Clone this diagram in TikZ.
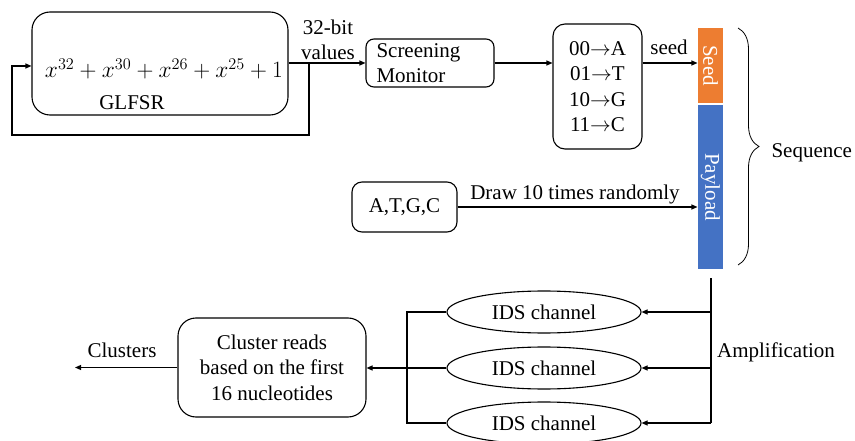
\documentclass[tikz,border=0pt]{standalone}
\usepackage{fontspec}
\setmainfont{Liberation Serif}
\usetikzlibrary{arrows.meta,decorations.pathreplacing,shapes.geometric}
\definecolor{seedor}{HTML}{ED7D31}
\definecolor{payblue}{HTML}{4472C4}
\newcommand{\toarr}{$\mathord{\rightarrow}$}
\begin{document}
\begin{tikzpicture}[x=1pt,y=-1pt,line width=1.1pt,
  txt/.style={font=\fontsize{21}{25.5}\selectfont, inner sep=0pt},
  box/.style={draw, txt, rounded corners=10pt},
  arr/.style={-{Triangle[length=6pt,width=5pt]}},
  bar/.style={inner sep=0pt, minimum width=25pt}
]
\useasboundingbox (0,0) rectangle (855,441);

% GLFSR
\node[box, rounded corners=18pt, minimum width=256pt, minimum height=103pt] (glfsr) at (160,63.5) {};
\node[txt, scale=1.13] (poly) at (164,69) {$x^{32}+x^{30}+x^{26}+x^{25}+1$};
\node[txt] (glab) at (132,103) {GLFSR};
\node[txt, align=center] (lbl) at (328,40) {32-bit\\values};

% screening monitor
\node[box, rounded corners=8pt, minimum width=128pt, minimum height=48pt, align=left, text width=107pt, inner xsep=10pt] (sm) at (430,63) {Screening\\Monitor};

% mapping
\node[box, rounded corners=12pt, minimum width=89pt, minimum height=125pt, align=center] (map) at (597.5,86.5) {00\toarr A\\01\toarr T\\10\toarr G\\11\toarr C};

% seed / payload bars
\node[bar, fill=seedor, minimum height=75pt] (seed) at (710.5,65.5) {};
\node[txt, text=white, rotate=-90] (seedt) at (seed.center) {Seed};
\node[bar, fill=payblue, minimum height=164pt] (pay) at (710.5,187) {};
\node[txt, text=white, rotate=-90] (payt) at (pay.center) {Payload};
\node[txt] (seedl) at (669,47) {seed};

% brace
\coordinate (brt) at (738,28);
\coordinate (brb) at (738,265);
\draw[line width=0.8pt, decorate, decoration={brace, amplitude=21pt}] (brt) -- (brb);
\node[txt, anchor=west] (seq) at (771,153) {Sequence};

% A,T,G,C
\node[box, minimum width=105pt, minimum height=50pt] (atgc) at (404.5,207) {A,T,G,C};
\node[txt] (drawl) at (575,194) {Draw 10 times randomly};

% connectors top
\coordinate (tap) at (309,63);
\coordinate (c1) at (309,135);
\coordinate (c2) at (12,135);
\coordinate (c3) at (12,66);
\draw[arr] (glfsr.east |- sm.west) -- (sm.west);
\draw[arr] (tap) -- (c1) -- (c2) -- (c3) -- (glfsr.west |- c3);
\draw[arr] (sm.east) -- (map.west |- sm.east);
\draw[arr] (map.east |- sm.east) -- (seed.west |- sm.east);
\draw[arr] (atgc.east) -- (pay.west |- atgc.east);

% IDS channels
\node[draw, ellipse, txt, minimum width=194pt, minimum height=42pt] (ids1) at (544,312) {IDS channel};
\node[draw, ellipse, txt, minimum width=194pt, minimum height=42pt] (ids2) at (544,368) {IDS channel};
\node[draw, ellipse, txt, minimum width=194pt, minimum height=42pt] (ids3) at (544,423) {IDS channel};

\coordinate (at) at (711,278);
\coordinate (a1) at (711,312);
\coordinate (a2) at (711,368);
\coordinate (a3) at (711,423);
\draw (at) -- (a3);
\draw[arr] (a1) -- (ids1.east);
\draw[arr] (a2) -- (ids2.east);
\draw[arr] (a3) -- (ids3.east);
\node[txt] (ampl) at (776,352) {Amplification};

% cluster
\node[box, rounded corners=18pt, minimum width=188pt, minimum height=99pt, align=center] (clu) at (272,367.5) {Cluster reads\\based on the first\\16 nucleotides};
\coordinate (b1) at (407,312);
\coordinate (b2) at (407,368);
\coordinate (b3) at (407,423);
\draw (ids1.west) -- (b1) -- (b3) -- (ids3.west);
\draw (ids2.west) -- (b2);
\draw[arr] (b2) -- (clu.east |- b2);
\coordinate (cl) at (75,367.5);
\draw[arr] (clu.west) -- (cl);
\node[txt] (clul) at (122,350) {Clusters};
\end{tikzpicture}
\end{document}
